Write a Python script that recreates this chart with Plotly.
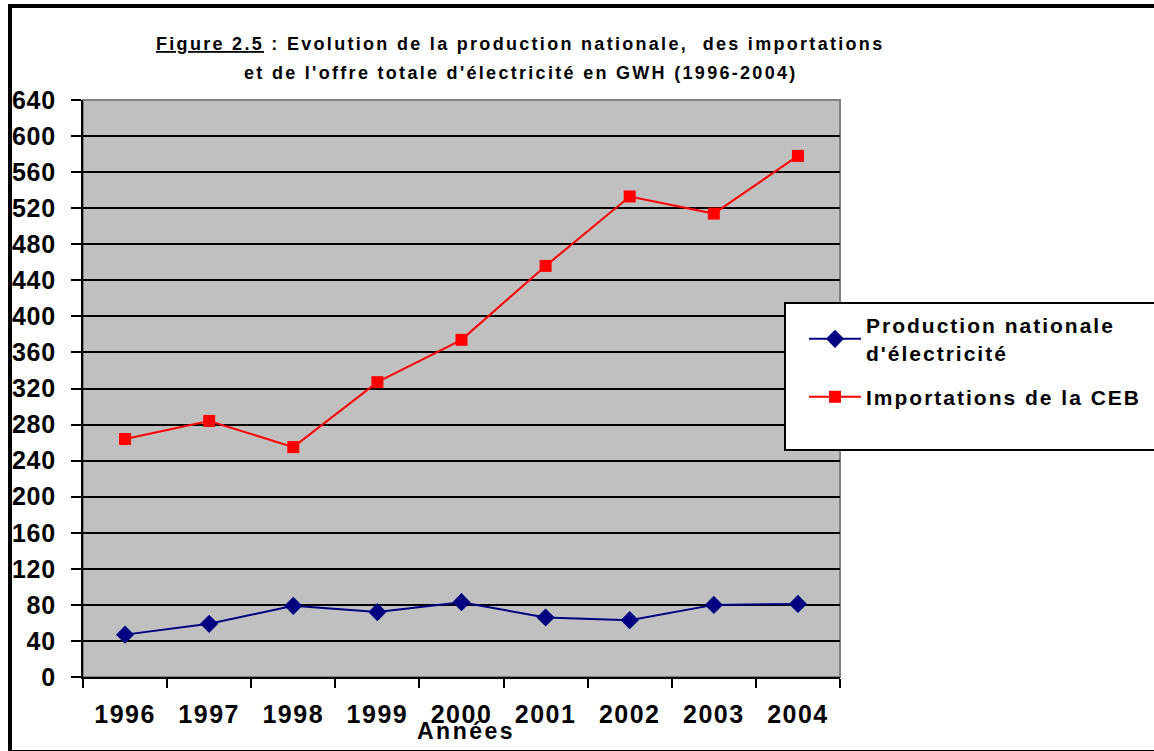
import plotly.graph_objects as go

# data (GWh)
annees = ["1996", "1997", "1998", "1999", "2000", "2001", "2002", "2003", "2004"]
production = [47, 59, 79, 72, 83, 66, 63, 80, 81]
importations = [264, 284, 255, 327, 374, 456, 533, 514, 578]
y_ticks = list(range(0, 641, 40))

W, H = 1154, 751
L, R, T, B = 83, 840, 100, 677   # plot area in pixels


def px(x):
    return (x - L) / (R - L)


def py(y):
    return (B - y) / (B - T)


def spaced(s, ls):
    # wider letter spacing, like the original Excel rendering
    return f'<span style="letter-spacing:{ls}px">{s}</span>'


FONT = "Liberation Sans, Arial, sans-serif"

fig = go.Figure()
fig.add_trace(go.Scatter(
    x=annees, y=production, mode="lines+markers",
    name=spaced("Production nationale", 2.0) + "<br>" + spaced("d'électricité", 2.0),
    line=dict(color="#000080", width=2),
    marker=dict(symbol="diamond", size=14, color="#000080"),
    legendgroup="a",
))
fig.add_trace(go.Scatter(
    x=annees, y=importations, mode="lines+markers",
    name=spaced("Importations de la CEB", 2.0),
    line=dict(color="#FF0000", width=2),
    marker=dict(symbol="square", size=12, color="#FF0000"),
    legendgroup="b",
))

fig.update_layout(
    width=W, height=H,
    margin=dict(l=L, r=W - R, t=T, b=H - B, autoexpand=False),
    paper_bgcolor="white",
    plot_bgcolor="#C0C0C0",
    font=dict(family=FONT, color="black", weight="bold"),
    showlegend=True,
    legend=dict(
        xref="container", yref="container",
        x=804 / W, y=1 - 305 / H, xanchor="left", yanchor="top",
        bgcolor="rgba(0,0,0,0)", borderwidth=0,
        font=dict(size=21, family=FONT, weight="bold"),
        tracegroupgap=14, itemwidth=52,
    ),
    xaxis=dict(
        type="category", tickson="boundaries", range=[-0.5, len(annees) - 0.5],
        tickvals=annees, ticktext=[spaced(a, 1.5) for a in annees],
        showgrid=False, showline=True, linecolor="black", linewidth=2,
        ticks="outside", ticklen=9, tickwidth=2, tickcolor="black",
        tickfont=dict(size=25, family=FONT, weight="bold"),
        ticklabelstandoff=14,
    ),
    yaxis=dict(
        range=[0, 640], tickvals=y_ticks,
        ticktext=[spaced(str(v), 0.8) for v in y_ticks],
        showgrid=True, gridcolor="black", gridwidth=2,
        showline=True, linecolor="black", linewidth=2,
        ticks="outside", ticklen=10, tickwidth=2, tickcolor="black",
        tickfont=dict(size=25, family=FONT, weight="bold"),
        ticklabelstandoff=10, zeroline=False,
    ),
    shapes=[
        # gray border of plot area (top/right)
        dict(type="rect", xref="paper", yref="paper", x0=0, x1=1, y0=0, y1=1,
             line=dict(color="#808080", width=2), layer="between"),
        # outer chart frame
        dict(type="rect", xref="paper", yref="paper",
             x0=px(10), x1=px(1175), y0=py(752), y1=py(6),
             line=dict(color="black", width=4)),
        # legend box
        dict(type="rect", xref="paper", yref="paper",
             x0=px(785), x1=px(1175), y0=py(450), y1=py(303),
             fillcolor="white", line=dict(color="black", width=2), layer="above"),
    ],
    annotations=[
        dict(text=spaced("<u>Figure 2.5</u> : Evolution de la production nationale,  des importations", 2.3),
             xref="paper", yref="paper", x=px(520), y=py(44),
             xanchor="center", yanchor="middle", showarrow=False,
             font=dict(size=18, family=FONT, weight="bold")),
        dict(text=spaced("et de l'offre totale d'électricité en GWH (1996-2004)", 2.3),
             xref="paper", yref="paper", x=px(521), y=py(73),
             xanchor="center", yanchor="middle", showarrow=False,
             font=dict(size=18, family=FONT, weight="bold")),
        dict(text=spaced("Années", 2.5), xref="paper", yref="paper", x=px(466), y=py(731),
             xanchor="center", yanchor="middle", showarrow=False,
             font=dict(size=23, family=FONT, weight="bold")),
    ],
)

fig.write_html("out.html", config={"displayModeBar": False},
               post_script="document.body.style.margin='0px';")
